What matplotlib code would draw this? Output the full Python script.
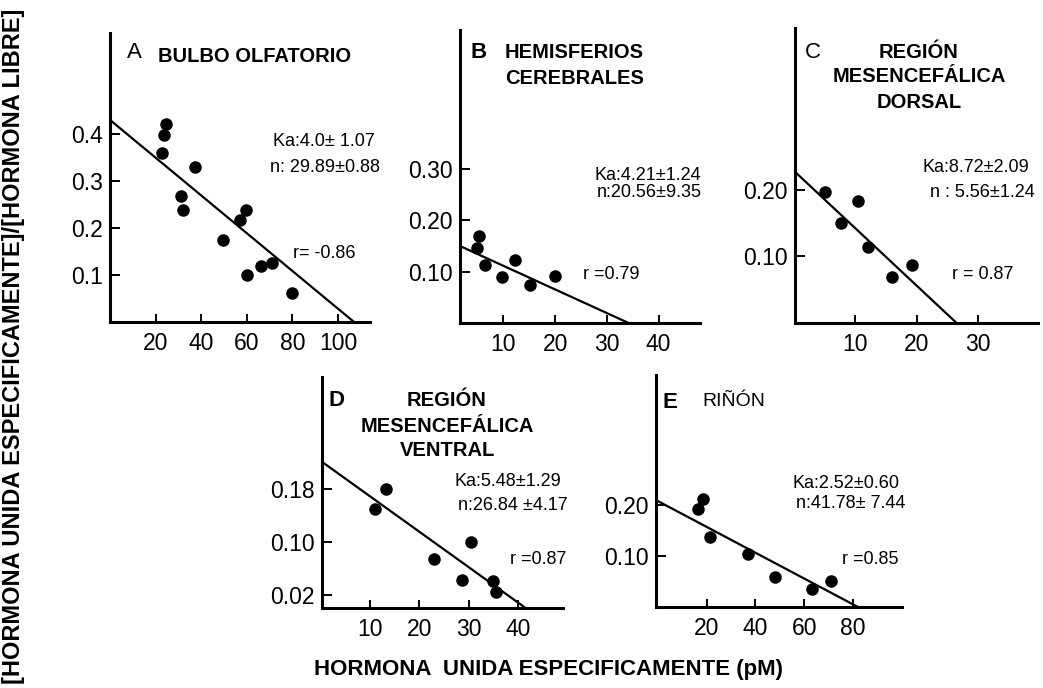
import matplotlib
matplotlib.use("Agg")
import matplotlib.pyplot as plt

W, H = 1043, 688

# ---------------- data ----------------
a_x = [24.6, 23.7, 22.9, 37.3, 31.0, 32.2, 57.0, 59.5, 49.4, 60.0, 66.1, 71.2, 79.7]
a_y = [0.421, 0.398, 0.360, 0.330, 0.269, 0.238, 0.216, 0.238, 0.174, 0.100, 0.120, 0.125, 0.062]
a_fit_x = [0, 107]
a_fit_y = [0.43, 0.0]

b_x = [5.2, 4.8, 6.4, 9.7, 12.2, 15.1, 19.9]
b_y = [0.170, 0.147, 0.114, 0.090, 0.123, 0.074, 0.092]
b_fit_x = [1.6, 34.2]
b_fit_y = [0.150, 0.0]

c_x = [5.1, 7.8, 10.5, 12.2, 16.1, 19.2]
c_y = [0.196, 0.150, 0.183, 0.114, 0.069, 0.087]
c_fit_x = [0.3, 26.5]
c_fit_y = [0.227, 0.0]

d_x = [11.0, 13.3, 22.9, 30.4, 28.7, 35.0, 35.6]
d_y = [0.149, 0.180, 0.074, 0.100, 0.043, 0.041, 0.025]
d_fit_x = [0.2, 41.6]
d_fit_y = [0.221, 0.0]

e_x = [16.4, 18.5, 21.3, 36.8, 48.2, 63.0, 70.9]
e_y = [0.192, 0.213, 0.137, 0.105, 0.059, 0.035, 0.052]
e_fit_x = [-0.7, 82.2]
e_fit_y = [0.210, 0.0]

a_xticks = [20, 40, 60, 80, 100]
a_yticks = [0.1, 0.2, 0.3, 0.4]
a_yticklabels = ["0.1", "0.2", "0.3", "0.4"]
b_xticks = [10, 20, 30, 40]
b_yticks = [0.10, 0.20, 0.30]
b_yticklabels = ["0.10", "0.20", "0.30"]
c_xticks = [10, 20, 30]
c_yticks = [0.10, 0.20]
c_yticklabels = ["0.10", "0.20"]
d_xticks = [10, 20, 30, 40]
d_yticks = [0.02, 0.10, 0.18]
d_yticklabels = ["0.02", "0.10", "0.18"]
e_xticks = [20, 40, 60, 80]
e_yticks = [0.10, 0.20]
e_yticklabels = ["0.10", "0.20"]

# ---------------- figure ----------------
fig = plt.figure(figsize=(W / 100, H / 100), dpi=100)
fig.patch.set_facecolor("white")

SANS = ["Liberation Sans", "DejaVu Sans"]


def fpos(x, y):
    return x / W, 1 - y / H


def make_axes(left, right, top, bottom, xlim, ylim, xs, ys, fx, fy,
              xticks, yticks, yticklabels):
    ax = fig.add_axes([left / W, 1 - bottom / H, (right - left) / W, (bottom - top) / H])
    ax.set_xlim(*xlim)
    ax.set_ylim(*ylim)
    for s in ("top", "right"):
        ax.spines[s].set_visible(False)
    for s in ("left", "bottom"):
        ax.spines[s].set_linewidth(2.2)
        ax.spines[s].set_color("black")
    ax.set_xticks(xticks)
    ax.set_xticklabels([str(tk) for tk in xticks])
    ax.set_yticks(yticks)
    ax.set_yticklabels(yticklabels)
    ax.tick_params(axis="x", direction="in", length=6, width=1.4, labelsize=16.5, pad=7)
    ax.tick_params(axis="y", direction="in", length=7, width=1.4, labelsize=16.5, pad=5)
    for lab in ax.get_xticklabels() + ax.get_yticklabels():
        lab.set_family(SANS)
    ax.plot(fx, fy, color="black", lw=1.6, solid_capstyle="butt", clip_on=False)
    ax.plot(xs, ys, "o", color="black", ms=8, clip_on=False)
    ax.patch.set_alpha(0)
    return ax


make_axes(110, 370, 33, 322, (0, 114), (0, 0.615), a_x, a_y, a_fit_x, a_fit_y,
          a_xticks, a_yticks, a_yticklabels)
make_axes(460, 700, 30, 323, (1.6, 48.0), (0, 0.571), b_x, b_y, b_fit_x, b_fit_y,
          b_xticks, b_yticks, b_yticklabels)
make_axes(795, 1038, 28, 323, (0.3, 39.7), (0, 0.443), c_x, c_y, c_fit_x, c_fit_y,
          c_xticks, c_yticks, c_yticklabels)
make_axes(321.7, 563, 376.7, 608.3, (0.2, 49.1), (0, 0.349), d_x, d_y, d_fit_x, d_fit_y,
          d_xticks, d_yticks, d_yticklabels)
make_axes(656, 902, 375, 607.3, (-0.7, 100), (0, 0.455), e_x, e_y, e_fit_x, e_fit_y,
          e_xticks, e_yticks, e_yticklabels)


def t(x, y, s, size=13, weight="normal", ha="left", va="center", **kw):
    fig.text(*fpos(x, y), s, fontsize=size, family=SANS, weight=weight,
             ha=ha, va=va, **kw)


TS = 14.5  # title size

# Panel letters and titles
t(127, 53, "A", size=16)
t(158, 57, "BULBO OLFATORIO", size=TS, weight="bold")

t(471, 52, "B", size=16, weight="bold")
t(505, 52, "HEMISFERIOS", size=TS, weight="bold")
t(505, 78, "CEREBRALES", size=TS, weight="bold")

t(805, 53, "C", size=16)
t(919, 52, "REGIÓN", size=TS, weight="bold", ha="center")
t(919, 77, "MESENCEFÁLICA", size=TS, weight="bold", ha="center")
t(919, 102, "DORSAL", size=TS, weight="bold", ha="center")

t(328, 400, "D", size=16, weight="bold")
t(447, 400, "REGIÓN", size=TS, weight="bold", ha="center")
t(447, 427, "MESENCEFÁLICA", size=TS, weight="bold", ha="center")
t(447, 450, "VENTRAL", size=TS, weight="bold", ha="center")

t(663, 402, "E", size=16, weight="bold")
t(702, 402, "RIÑÓN", size=14)

# Statistics
t(273, 142, "Ka:4.0± 1.07")
t(270, 167, "n: 29.89±0.88")
t(293, 253, "r= -0.86")

t(595, 175, "Ka:4.21±1.24")
t(597, 193, "n:20.56±9.35")
t(583, 275, "r =0.79")

t(923, 167, "Ka:8.72±2.09")
t(930, 193, "n : 5.56±1.24")
t(952, 275, "r = 0.87")

t(455, 482, "Ka:5.48±1.29")
t(458, 505, "n:26.84 ±4.17")
t(510, 560, "r =0.87")

t(793, 483, "Ka:2.52±0.60")
t(796, 503, "n:41.78± 7.44")
t(842, 559, "r =0.85")

# Axis titles
t(549, 670, "HORMONA  UNIDA ESPECIFICAMENTE (pM)", size=16, weight="bold", ha="center")
t(14, 346, "[HORMONA UNIDA ESPECIFICAMENTE]/[HORMONA LIBRE]", size=17, weight="bold",
  ha="center", rotation=90)

fig.savefig("out.png", dpi=100, facecolor="white")
